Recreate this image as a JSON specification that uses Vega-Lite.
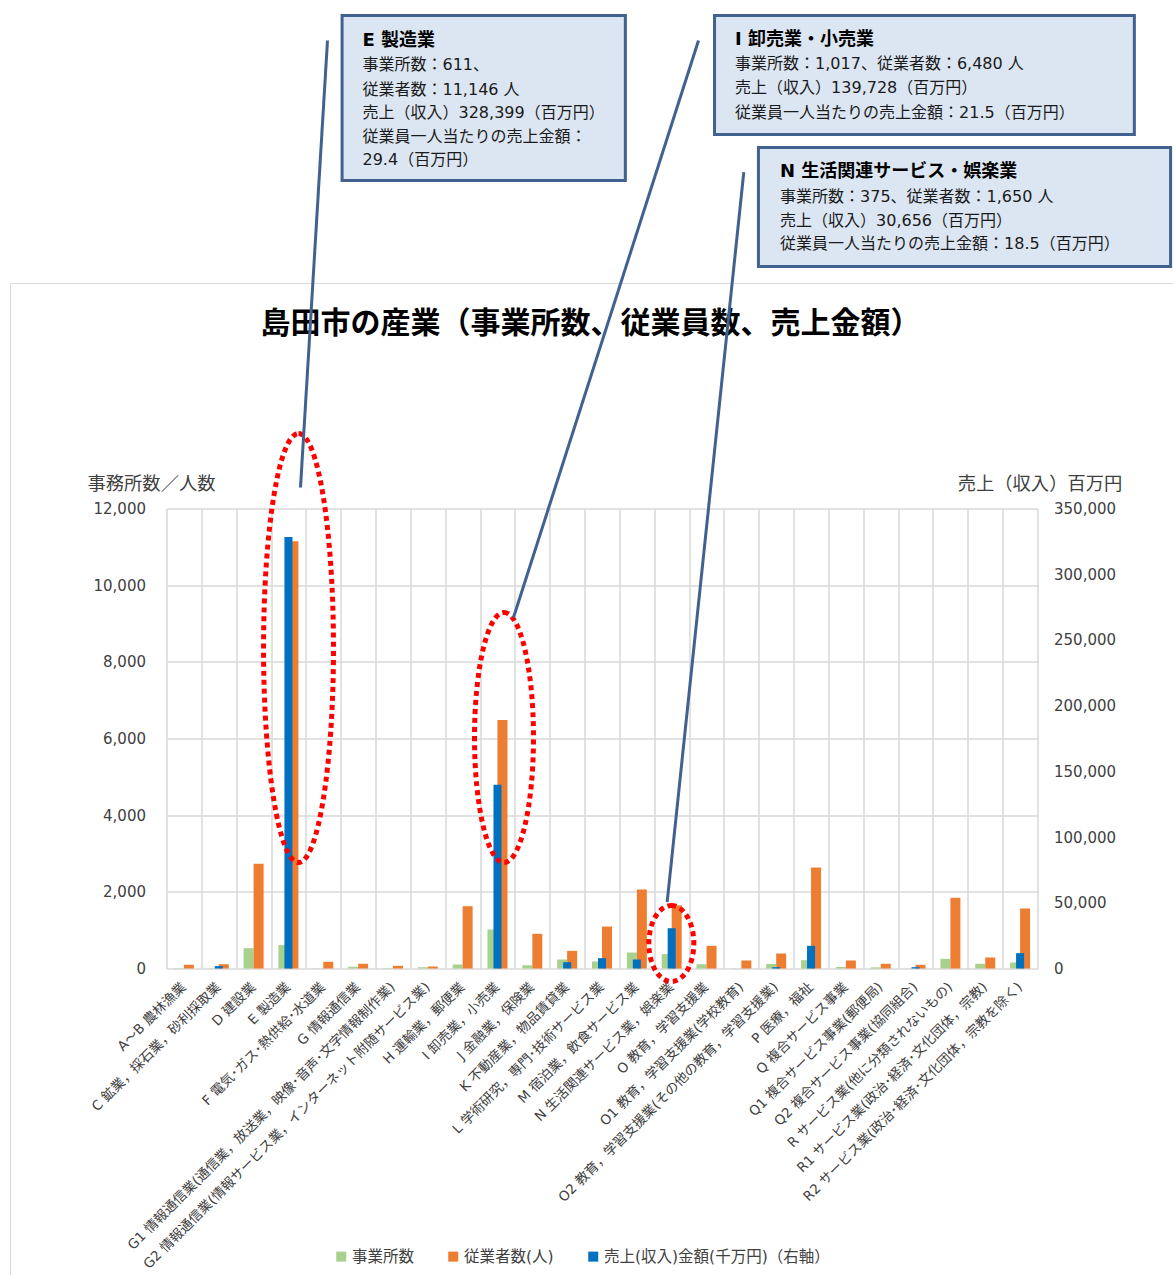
{
  "$schema": "https://vega.github.io/schema/vega-lite/v6.json",
  "width": 871,
  "height": 460,
  "autosize": {"type": "pad"},
  "padding": {"left": 9.5, "top": 13.5, "right": 0, "bottom": 0},
  "background": "white",
  "config": {
    "font": "DejaVu Sans, 'Noto Sans CJK JP'",
    "view": {"stroke": null},
    "axis": {"labelColor": "#404040", "titleColor": "#404040", "titleFontWeight": "normal"}
  },
  "datasets": {
    "counts": [
      {"cat": "A～B 農林漁業", "series": "事業所数", "value": 8},
      {"cat": "A～B 農林漁業", "series": "従業者数(人)", "value": 97},
      {"cat": "C 鉱業，採石業，砂利採取業", "series": "事業所数", "value": 5},
      {"cat": "C 鉱業，採石業，砂利採取業", "series": "従業者数(人)", "value": 112},
      {"cat": "D 建設業", "series": "事業所数", "value": 530},
      {"cat": "D 建設業", "series": "従業者数(人)", "value": 2731},
      {"cat": "E 製造業", "series": "事業所数", "value": 611},
      {"cat": "E 製造業", "series": "従業者数(人)", "value": 11146},
      {"cat": "F 電気･ガス･熱供給･水道業", "series": "事業所数", "value": 5},
      {"cat": "F 電気･ガス･熱供給･水道業", "series": "従業者数(人)", "value": 175},
      {"cat": "G 情報通信業", "series": "事業所数", "value": 45},
      {"cat": "G 情報通信業", "series": "従業者数(人)", "value": 123},
      {"cat": "G1 情報通信業(通信業，放送業，映像･音声･文字情報制作業)", "series": "事業所数", "value": 10},
      {"cat": "G1 情報通信業(通信業，放送業，映像･音声･文字情報制作業)", "series": "従業者数(人)", "value": 70},
      {"cat": "G2 情報通信業(情報サービス業，インターネット附随サービス業)", "series": "事業所数", "value": 30},
      {"cat": "G2 情報通信業(情報サービス業，インターネット附随サービス業)", "series": "従業者数(人)", "value": 52},
      {"cat": "H 運輸業，郵便業", "series": "事業所数", "value": 104},
      {"cat": "H 運輸業，郵便業", "series": "従業者数(人)", "value": 1625},
      {"cat": "I 卸売業，小売業", "series": "事業所数", "value": 1017},
      {"cat": "I 卸売業，小売業", "series": "従業者数(人)", "value": 6480},
      {"cat": "J 金融業，保険業", "series": "事業所数", "value": 85},
      {"cat": "J 金融業，保険業", "series": "従業者数(人)", "value": 905},
      {"cat": "K 不動産業，物品賃貸業", "series": "事業所数", "value": 235},
      {"cat": "K 不動産業，物品賃貸業", "series": "従業者数(人)", "value": 461},
      {"cat": "L 学術研究，専門･技術サービス業", "series": "事業所数", "value": 183},
      {"cat": "L 学術研究，専門･技術サービス業", "series": "従業者数(人)", "value": 1095},
      {"cat": "M 宿泊業，飲食サービス業", "series": "事業所数", "value": 417},
      {"cat": "M 宿泊業，飲食サービス業", "series": "従業者数(人)", "value": 2061},
      {"cat": "N 生活関連サービス業，娯楽業", "series": "事業所数", "value": 375},
      {"cat": "N 生活関連サービス業，娯楽業", "series": "従業者数(人)", "value": 1650},
      {"cat": "O 教育，学習支援業", "series": "事業所数", "value": 112},
      {"cat": "O 教育，学習支援業", "series": "従業者数(人)", "value": 592},
      {"cat": "O1 教育，学習支援業(学校教育)", "series": "事業所数", "value": 5},
      {"cat": "O1 教育，学習支援業(学校教育)", "series": "従業者数(人)", "value": 209},
      {"cat": "O2 教育，学習支援業(その他の教育，学習支援業)", "series": "事業所数", "value": 120},
      {"cat": "O2 教育，学習支援業(その他の教育，学習支援業)", "series": "従業者数(人)", "value": 391},
      {"cat": "P 医療，福祉", "series": "事業所数", "value": 217},
      {"cat": "P 医療，福祉", "series": "従業者数(人)", "value": 2635},
      {"cat": "Q 複合サービス事業", "series": "事業所数", "value": 40},
      {"cat": "Q 複合サービス事業", "series": "従業者数(人)", "value": 209},
      {"cat": "Q1 複合サービス事業(郵便局)", "series": "事業所数", "value": 30},
      {"cat": "Q1 複合サービス事業(郵便局)", "series": "従業者数(人)", "value": 123},
      {"cat": "Q2 複合サービス事業(協同組合)", "series": "事業所数", "value": 5},
      {"cat": "Q2 複合サービス事業(協同組合)", "series": "従業者数(人)", "value": 97},
      {"cat": "R サービス業(他に分類されないもの)", "series": "事業所数", "value": 253},
      {"cat": "R サービス業(他に分類されないもの)", "series": "従業者数(人)", "value": 1844},
      {"cat": "R1 サービス業(政治･経済･文化団体，宗教)", "series": "事業所数", "value": 123},
      {"cat": "R1 サービス業(政治･経済･文化団体，宗教)", "series": "従業者数(人)", "value": 287},
      {"cat": "R2 サービス業(政治･経済･文化団体，宗教を除く)", "series": "事業所数", "value": 157},
      {"cat": "R2 サービス業(政治･経済･文化団体，宗教を除く)", "series": "従業者数(人)", "value": 1565}
    ],
    "sales": [
      {"cat": "C 鉱業，採石業，砂利採取業", "series": "売上(収入)金額(千万円)（右軸）", "value": 1800},
      {"cat": "E 製造業", "series": "売上(収入)金額(千万円)（右軸）", "value": 328399},
      {"cat": "I 卸売業，小売業", "series": "売上(収入)金額(千万円)（右軸）", "value": 139728},
      {"cat": "K 不動産業，物品賃貸業", "series": "売上(収入)金額(千万円)（右軸）", "value": 4800},
      {"cat": "L 学術研究，専門･技術サービス業", "series": "売上(収入)金額(千万円)（右軸）", "value": 7860},
      {"cat": "M 宿泊業，飲食サービス業", "series": "売上(収入)金額(千万円)（右軸）", "value": 6850},
      {"cat": "N 生活関連サービス業，娯楽業", "series": "売上(収入)金額(千万円)（右軸）", "value": 30656},
      {"cat": "O2 教育，学習支援業(その他の教育，学習支援業)", "series": "売上(収入)金額(千万円)（右軸）", "value": 1000},
      {"cat": "P 医療，福祉", "series": "売上(収入)金額(千万円)（右軸）", "value": 17250},
      {"cat": "Q2 複合サービス事業(協同組合)", "series": "売上(収入)金額(千万円)（右軸）", "value": 1000},
      {"cat": "R2 サービス業(政治･経済･文化団体，宗教を除く)", "series": "売上(収入)金額(千万円)（右軸）", "value": 11680}
    ],
    "frame": [{"x": -4.478, "x2": 29.6, "y": 17870, "y2": -8139}],
    "title": [{"x": 12.17, "y": 16826, "text": "島田市の産業（事業所数、従業員数、売上金額）"}],
    "ovalE": [{"x": 3.789, "y": 8361}],
    "ovalI": [{"x": 9.687, "y": 6026}],
    "ovalN": [{"x": 14.49, "y": 652}],
    "links": [
      {"x": 4.621, "y": 24209, "x2": 3.846, "y2": 12548},
      {"x": 15.27, "y": 24209, "x2": 9.96, "y2": 9157},
      {"x": 16.57, "y": 20773, "x2": 14.37, "y2": 1730}
    ],
    "boxes": [
      {"x": 5.04, "x2": 13.17, "y": 24861, "y2": 20557},
      {"x": 15.73, "x2": 27.78, "y": 24861, "y2": 21757},
      {"x": 16.99, "x2": 28.82, "y": 21417, "y2": 18313}
    ],
    "heads": [
      {"x": 5.626, "y": 24183, "text": "E 製造業"},
      {"x": 16.32, "y": 24209, "text": "I 卸売業・小売業"},
      {"x": 17.61, "y": 20778, "text": "N 生活関連サービス・娯楽業"}
    ],
    "lines": [
      {"x": 5.626, "y": 23557, "text": "事業所数：611、"},
      {"x": 5.626, "y": 22930, "text": "従業者数：11,146 人"},
      {"x": 5.626, "y": 22330, "text": "売上（収入）328,399（百万円）"},
      {"x": 5.626, "y": 21704, "text": "従業員一人当たりの売上金額："},
      {"x": 5.626, "y": 21104, "text": "29.4（百万円）"},
      {"x": 16.32, "y": 23583, "text": "事業所数：1,017、従業者数：6,480 人"},
      {"x": 16.32, "y": 22957, "text": "売上（収入）139,728（百万円）"},
      {"x": 16.32, "y": 22330, "text": "従業員一人当たりの売上金額：21.5（百万円）"},
      {"x": 17.61, "y": 20139, "text": "事業所数：375、従業者数：1,650 人"},
      {"x": 17.61, "y": 19513, "text": "売上（収入）30,656（百万円）"},
      {"x": 17.61, "y": 18887, "text": "従業員一人当たりの売上金額：18.5（百万円）"}
    ]
  },
  "layer": [
    {
      "data": {"name": "counts"},
      "mark": {"type": "bar"},
      "encoding": {
        "x": {
          "field": "cat", "type": "nominal", "sort": null,
          "scale": {"paddingInner": 0.426, "paddingOuter": 0.213},
          "axis": {"title": null, "labelAngle": -45, "labelAlign": "right", "labelBaseline": "middle", "labelFontSize": 13.5, "labelLimit": 1000, "ticks": false, "domain": false, "grid": false, "labelPadding": 16, "labelColor": "#404040"}
        },
        "xOffset": {"field": "series", "type": "nominal", "sort": ["事業所数", "従業者数(人)"], "scale": {"paddingInner": 0, "paddingOuter": 0}},
        "y": {
          "field": "value", "type": "quantitative",
          "scale": {"domain": [0, 12000], "nice": false},
          "axis": {"title": "事務所数／人数", "titleAngle": 0, "titleAlign": "center", "titleBaseline": "middle", "titleX": -15.5, "titleY": -24, "titleFontSize": 18.3, "values": [0, 2000, 4000, 6000, 8000, 10000, 12000], "format": ",.0f", "labelFontSize": 15, "labelPadding": 21, "ticks": false, "domain": false, "grid": true, "gridColor": "#d9d9d9", "gridWidth": 1.5}
        },
        "color": {
          "field": "series", "type": "nominal",
          "scale": {"domain": ["事業所数", "従業者数(人)", "売上(収入)金額(千万円)（右軸）"], "range": ["#a9d18e", "#ed7d31", "#0070c0"]},
          "legend": {"orient": "none", "legendX": 167, "legendY": 740, "direction": "horizontal", "title": null, "symbolType": "square", "symbolSize": 100, "symbolStrokeWidth": 0, "labelFontSize": 15.5, "labelColor": "#404040", "columnPadding": 31, "labelOffset": 3, "labelLimit": 400}
        }
      }
    },
    {
      "data": {"name": "sales"},
      "mark": {"type": "bar"},
      "encoding": {
        "x": {
          "field": "cat", "type": "nominal", "sort": null,
          "scale": {"domain": ["A～B 農林漁業", "C 鉱業，採石業，砂利採取業", "D 建設業", "E 製造業", "F 電気･ガス･熱供給･水道業", "G 情報通信業", "G1 情報通信業(通信業，放送業，映像･音声･文字情報制作業)", "G2 情報通信業(情報サービス業，インターネット附随サービス業)", "H 運輸業，郵便業", "I 卸売業，小売業", "J 金融業，保険業", "K 不動産業，物品賃貸業", "L 学術研究，専門･技術サービス業", "M 宿泊業，飲食サービス業", "N 生活関連サービス業，娯楽業", "O 教育，学習支援業", "O1 教育，学習支援業(学校教育)", "O2 教育，学習支援業(その他の教育，学習支援業)", "P 医療，福祉", "Q 複合サービス事業", "Q1 複合サービス事業(郵便局)", "Q2 複合サービス事業(協同組合)", "R サービス業(他に分類されないもの)", "R1 サービス業(政治･経済･文化団体，宗教)", "R2 サービス業(政治･経済･文化団体，宗教を除く)"], "paddingInner": 0.77, "paddingOuter": 0.385},
          "axis": null
        },
        "y": {
          "field": "value", "type": "quantitative",
          "scale": {"domain": [0, 350000], "nice": false},
          "axis": {"orient": "right", "title": "売上（収入）百万円", "titleAngle": 0, "titleAlign": "center", "titleBaseline": "middle", "titleX": 2, "titleY": -24, "titleFontSize": 18.3, "values": [0, 50000, 100000, 150000, 200000, 250000, 300000, 350000], "format": ",.0f", "labelFontSize": 15, "labelPadding": 16, "ticks": false, "domain": false, "grid": false}
        },
        "color": {"field": "series", "type": "nominal", "legend": null}
      }
    },
    {
      "encoding": {
        "x": {"field": "x", "type": "quantitative", "scale": {"domain": [0, 25], "nice": false, "zero": false}, "axis": {"orient": "top", "values": [0, 1, 2, 3, 4, 5, 6, 7, 8, 9, 10, 11, 12, 13, 14, 15, 16, 17, 18, 19, 20, 21, 22, 23, 24, 25], "grid": true, "gridColor": "#d9d9d9", "gridWidth": 1.5, "labels": false, "ticks": false, "domain": false, "title": null}},
        "y": {"field": "y", "type": "quantitative", "scale": {"domain": [0, 12000], "nice": false, "zero": false}, "axis": null}
      },
      "layer": [
        {
          "data": {"name": "frame"},
          "mark": {"type": "rect", "filled": false, "stroke": "#d9d9d9", "strokeWidth": 1, "clip": false},
          "encoding": {"x2": {"field": "x2"}, "y2": {"field": "y2"}}
        },
        {
          "data": {"name": "title"},
          "mark": {"type": "text", "align": "center", "baseline": "middle", "fontSize": 30, "fontWeight": "bold", "color": "#000000", "clip": false},
          "encoding": {"text": {"field": "text"}}
        },
        {
          "data": {"name": "ovalE"},
          "mark": {"type": "point", "shape": "M0,-1C0.09,-1,0.163,-0.552,0.163,0C0.163,0.552,0.09,1,0,1C-0.09,1,-0.163,0.552,-0.163,0C-0.163,-0.552,-0.09,-1,0,-1Z", "size": 184041, "filled": false, "stroke": "#ff0000", "strokeWidth": 5, "strokeDash": [5, 4], "opacity": 1, "clip": false},
          "encoding": {}
        },
        {
          "data": {"name": "ovalI"},
          "mark": {"type": "point", "shape": "M0,-1C0.13,-1,0.236,-0.552,0.236,0C0.236,0.552,0.13,1,0,1C-0.13,1,-0.236,0.552,-0.236,0C-0.236,-0.552,-0.13,-1,0,-1Z", "size": 62500, "filled": false, "stroke": "#ff0000", "strokeWidth": 5, "strokeDash": [5, 4], "opacity": 1, "clip": false},
          "encoding": {}
        },
        {
          "data": {"name": "ovalN"},
          "mark": {"type": "point", "shape": "M0,-1C0.327,-1,0.592,-0.552,0.592,0C0.592,0.552,0.327,1,0,1C-0.327,1,-0.592,0.552,-0.592,0C-0.592,-0.552,-0.327,-1,0,-1Z", "size": 5776, "filled": false, "stroke": "#ff0000", "strokeWidth": 5, "strokeDash": [5, 4], "opacity": 1, "clip": false},
          "encoding": {}
        },
        {
          "data": {"name": "links"},
          "mark": {"type": "rule", "stroke": "#41618f", "strokeWidth": 3, "clip": false},
          "encoding": {"x2": {"field": "x2"}, "y2": {"field": "y2"}}
        },
        {
          "data": {"name": "boxes"},
          "mark": {"type": "rect", "fill": "#dce6f2", "stroke": "#41618f", "strokeWidth": 3, "clip": false},
          "encoding": {"x2": {"field": "x2"}, "y2": {"field": "y2"}}
        },
        {
          "data": {"name": "heads"},
          "mark": {"type": "text", "align": "left", "baseline": "middle", "fontSize": 18, "fontWeight": "bold", "color": "#000000", "clip": false},
          "encoding": {"text": {"field": "text"}}
        },
        {
          "data": {"name": "lines"},
          "mark": {"type": "text", "align": "left", "baseline": "middle", "fontSize": 16, "color": "#1a1a1a", "clip": false},
          "encoding": {"text": {"field": "text"}}
        }
      ]
    }
  ],
  "resolve": {"scale": {"x": "independent", "y": "independent"}, "axis": {"x": "independent", "y": "independent"}}
}
